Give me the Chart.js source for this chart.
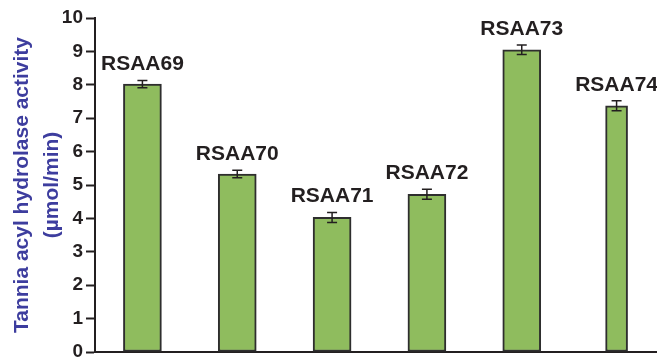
<!DOCTYPE html>
<html>
<head>
<meta charset="utf-8">
<script src="https://cdn.jsdelivr.net/npm/chart.js@4.4.1/dist/chart.umd.min.js"></script>
<style>
  html, body { margin: 0; padding: 0; background: #ffffff; }
  #wrap { width: 657px; height: 361px; position: relative; }
</style>
</head>
<body>
<div id="wrap"><canvas id="chart"></canvas></div>
<script>
// Strains and their measured tannase activity (µmol/min) with standard errors
const strains = ['RSAA69', 'RSAA70', 'RSAA71', 'RSAA72', 'RSAA73', 'RSAA74'];
const activity = [8.02, 5.33, 4.03, 4.72, 9.05, 7.37];
const errors = [0.11, 0.11, 0.15, 0.15, 0.14, 0.15];
const yTicks = [0, 1, 2, 3, 4, 5, 6, 7, 8, 9, 10];

// Bars drawn in the slimmer style
const slimBars = ['RSAA74'];

const INK = '#231f20';
const BAR_FILL = '#8fbc5e';
const BAR_EDGE = '#2e2e2e';
const TITLE_BLUE = '#3d3d9e';
const FONT = '"Liberation Sans", Arial, Helvetica, sans-serif';

// The category axis runs a little past the right edge of the canvas,
// and the baseline sits close to the bottom edge.
const X_OVERHANG = 7;
const BOTTOM_GAP = 9;

const fitArea = {
  id: 'fitArea',
  afterLayout(chart) {
    const { x, y } = chart.scales;
    const area = chart.chartArea;

    x.right = chart.width + X_OVERHANG;
    x.width = x.right - x.left;
    area.right = x.right;
    area.width = area.right - area.left;

    const base = chart.height - BOTTOM_GAP;
    area.bottom = base;
    area.height = base - area.top;
    y.bottom = base;
    y.height = base - y.top;
    const xh = x.height;
    x.top = base;
    x.bottom = base + xh;

    x.configure();
    y.configure();
  }
};

// Error bars and strain names above each bar
const annotate = {
  id: 'annotate',
  afterDatasetsDraw(chart) {
    const { ctx, scales: { x, y } } = chart;
    ctx.save();
    strains.forEach((name, i) => {
      const cx = x.getPixelForValue(i);
      const hi = y.getPixelForValue(activity[i] + errors[i]);
      const lo = y.getPixelForValue(activity[i] - errors[i]);
      ctx.strokeStyle = INK;
      ctx.lineWidth = 1.5;
      ctx.beginPath();
      ctx.moveTo(cx, hi); ctx.lineTo(cx, lo);
      ctx.moveTo(cx - 5, hi); ctx.lineTo(cx + 5, hi);
      ctx.moveTo(cx - 5, lo); ctx.lineTo(cx + 5, lo);
      ctx.stroke();

      ctx.fillStyle = INK;
      ctx.font = 'bold 21px ' + FONT;
      ctx.textAlign = 'center';
      ctx.textBaseline = 'alphabetic';
      ctx.fillText(name, cx, hi - 10);
    });
    ctx.restore();
  }
};

const wideData = activity.map((v, i) => slimBars.includes(strains[i]) ? null : v);
const slimData = activity.map((v, i) => slimBars.includes(strains[i]) ? v : null);

new Chart(document.getElementById('chart'), {
  type: 'bar',
  data: {
    labels: strains,
    datasets: [
      {
        data: wideData,
        backgroundColor: BAR_FILL,
        borderColor: BAR_EDGE,
        borderWidth: 2,
        borderSkipped: false,
        barThickness: 38,
        grouped: false
      },
      {
        data: slimData,
        backgroundColor: BAR_FILL,
        borderColor: BAR_EDGE,
        borderWidth: 2,
        borderSkipped: false,
        barThickness: 22,
        grouped: false
      }
    ]
  },
  options: {
    responsive: true,
    maintainAspectRatio: false,
    animation: false,
    layout: { padding: { left: 0, right: 0, top: 18, bottom: 1 } },
    plugins: {
      legend: { display: false },
      tooltip: { enabled: false }
    },
    scales: {
      x: {
        type: 'category',
        offset: true,
        grid: { display: false },
        ticks: { display: false },
        border: { display: true, color: INK, width: 2 }
      },
      y: {
        min: 0,
        max: 10,
        afterBuildTicks(scale) {
          scale.ticks = yTicks.map(v => ({ value: v }));
        },
        afterFit(scale) { scale.width = 95; },
        grid: {
          drawOnChartArea: false,
          drawTicks: true,
          tickLength: 9,
          tickWidth: 2,
          tickColor: INK
        },
        border: { display: true, color: INK, width: 2 },
        ticks: {
          color: INK,
          padding: 3,
          font: { family: FONT, size: 19, weight: 'bold' }
        },
        title: {
          display: true,
          text: ['Tannia acyl hydrolase activity', '(µmol/min)'],
          color: TITLE_BLUE,
          font: { family: FONT, size: 21, weight: 'bold', lineHeight: 1.43 },
          padding: { top: 7, bottom: 0 }
        }
      }
    }
  },
  plugins: [fitArea, annotate]
});
</script>
</body>
</html>
